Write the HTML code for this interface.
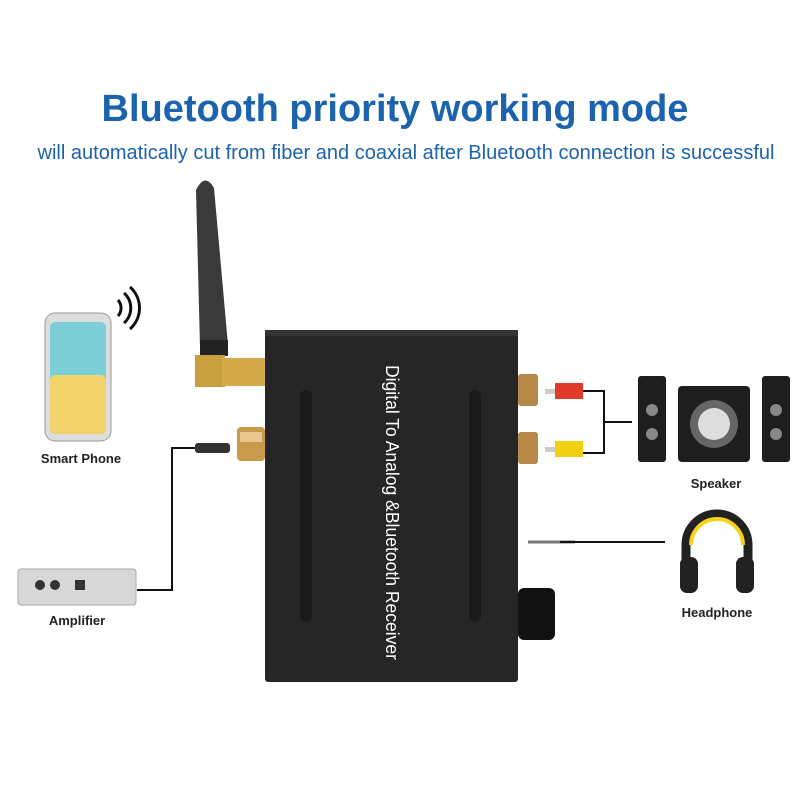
<!DOCTYPE html>
<html><head><meta charset="utf-8"><style>
body{margin:0;background:#fff;width:800px;height:800px;overflow:hidden;font-family:"Liberation Sans",sans-serif}
</style></head><body>
<svg width="800" height="800" viewBox="0 0 800 800" xmlns="http://www.w3.org/2000/svg" font-family="Liberation Sans, sans-serif">
<text x="395" y="121" text-anchor="middle" font-size="38" font-weight="bold" fill="#1b63ad">Bluetooth priority working mode</text>
<text x="406" y="159" text-anchor="middle" font-size="20" fill="#1b63ad" textLength="737" lengthAdjust="spacingAndGlyphs">will automatically cut from fiber and coaxial after Bluetooth connection is successful</text>

<!-- antenna -->
<path d="M196 190 Q205 172 214 188 L228 345 L200 347 Z" fill="#3a3a3a"/>
<rect x="200" y="340" width="28" height="16" fill="#222"/>
<rect x="195" y="355" width="30" height="32" fill="#c9a040"/>
<rect x="222" y="358" width="43" height="28" fill="#d4aa4a"/>
<!-- box -->
<rect x="265" y="330" width="253" height="352" rx="3" fill="#262626"/>
<rect x="265" y="330" width="253" height="6" fill="#333"/>
<rect x="300" y="390" width="12" height="232" rx="6" fill="#1a1a1a"/>
<rect x="469" y="390" width="12" height="232" rx="6" fill="#1a1a1a"/>
<text transform="translate(386,365) rotate(90)" font-size="18" fill="#fff" textLength="295" lengthAdjust="spacingAndGlyphs">Digital To Analog &amp;Bluetooth Receiver</text>
<!-- left coax -->
<rect x="237" y="427" width="28" height="34" rx="4" fill="#c99a4a"/>
<rect x="240" y="432" width="22" height="10" fill="#e8c890"/>
<!-- right RCA -->
<rect x="518" y="374" width="20" height="32" rx="3" fill="#b88a4a"/>
<rect x="518" y="432" width="20" height="32" rx="3" fill="#b88a4a"/>
<rect x="545" y="389" width="10" height="5" fill="#ccc"/>
<rect x="555" y="383" width="28" height="16" fill="#e03b2a"/>
<rect x="545" y="447" width="10" height="5" fill="#ccc"/>
<rect x="555" y="441" width="28" height="16" fill="#f0d010"/>
<path d="M583 391 H604 V453 H583 M604 422 H632" stroke="#111" stroke-width="2" fill="none"/>
<!-- jack -->
<path d="M528 542 H575" stroke="#777" stroke-width="3"/>
<path d="M560 542 H665" stroke="#111" stroke-width="2"/>
<!-- knob -->
<rect x="518" y="588" width="37" height="52" rx="6" fill="#111"/>
<!-- optical cable -->
<rect x="195" y="443" width="35" height="10" rx="3" fill="#333"/>
<path d="M195 448 H172 V590 H137" stroke="#111" stroke-width="2" fill="none"/>

<!-- phone -->
<rect x="45" y="313" width="66" height="128" rx="10" fill="#ddd" stroke="#999"/>
<rect x="50" y="322" width="56" height="112" rx="5" fill="#7ccfd6"/>
<rect x="50" y="375" width="56" height="59" rx="5" fill="#f3d36b"/>
<path d="M118 300 a12 12 0 0 1 0 16 M124 293 a20 20 0 0 1 0 30 M130 287 a28 28 0 0 1 0 42" stroke="#111" stroke-width="3" fill="none"/>
<text x="81" y="463" text-anchor="middle" font-size="13" font-weight="bold" fill="#222">Smart Phone</text>
<!-- amplifier -->
<rect x="18" y="569" width="118" height="36" rx="3" fill="#d8d8d8" stroke="#aaa"/>
<circle cx="40" cy="585" r="5" fill="#333"/><circle cx="55" cy="585" r="5" fill="#333"/>
<rect x="75" y="580" width="10" height="10" fill="#333"/>
<text x="77" y="625" text-anchor="middle" font-size="13" font-weight="bold" fill="#222">Amplifier</text>
<!-- speakers -->
<rect x="638" y="376" width="28" height="86" rx="3" fill="#1e1e1e"/>
<circle cx="652" cy="410" r="6" fill="#888"/><circle cx="652" cy="434" r="6" fill="#888"/>
<rect x="762" y="376" width="28" height="86" rx="3" fill="#1e1e1e"/>
<circle cx="776" cy="410" r="6" fill="#888"/><circle cx="776" cy="434" r="6" fill="#888"/>
<rect x="678" y="386" width="72" height="76" rx="4" fill="#1e1e1e"/>
<circle cx="714" cy="424" r="24" fill="#666"/><circle cx="714" cy="424" r="16" fill="#ddd"/>
<text x="716" y="488" text-anchor="middle" font-size="13" font-weight="bold" fill="#222">Speaker</text>
<!-- headphone -->
<path d="M686 570 V545 a31 31 0 0 1 62 0 V570" stroke="#222" stroke-width="9" fill="none"/>
<path d="M691 545 a26 26 0 0 1 52 0" stroke="#f2d21a" stroke-width="4" fill="none"/>
<rect x="680" y="557" width="18" height="36" rx="7" fill="#222"/>
<rect x="736" y="557" width="18" height="36" rx="7" fill="#222"/>
<text x="717" y="617" text-anchor="middle" font-size="13" font-weight="bold" fill="#222">Headphone</text>
</svg>
</body></html>
